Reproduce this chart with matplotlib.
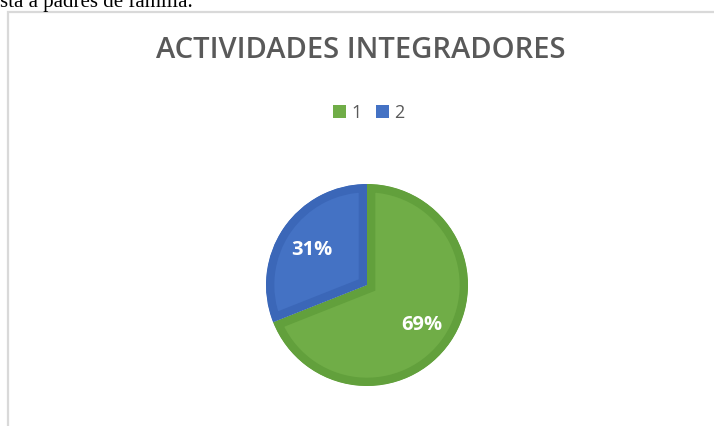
import matplotlib
matplotlib.use("Agg")
import matplotlib.pyplot as plt
from matplotlib.patches import Rectangle

categories = ["1", "2"]
values = [69, 31]
fill_colors = ["#70AD47", "#4472C4"]
edge_colors = ["#62A03C", "#3B67B8"]
title = "ACTIVIDADES INTEGRADORES"
caption = "sta a padres de familia."

W, H = 714, 426
fig = plt.figure(figsize=(W / 100, H / 100), dpi=100)
fig.patch.set_facecolor("white")

# chart frame border
fig.add_artist(Rectangle((8 / W, -0.1), 1.2, 1.1 - 12 / H,
                         transform=fig.transFigure, fill=False,
                         edgecolor="#D9D9D9", linewidth=1.6))

# cut-off caption from the surrounding document
fig.text(0 / W, 1 - 7 / H, caption, fontsize=15, family="Liberation Serif",
         color="black", va="baseline", ha="left")

fig.text(361 / W, 1 - 51 / H, title, fontsize=21, family="Open Sans",
         weight="semibold", color="#595959", ha="center", va="center")

# pie axes: center (367,285), radius ~101
cx, cy, r = 367, 285, 101
ax = fig.add_axes([(cx - r) / W, 1 - (cy + r) / H, 2 * r / W, 2 * r / H])
wedges, texts, autotexts = ax.pie(
    values, colors=fill_colors, startangle=90, counterclock=False,
    autopct="%d%%", pctdistance=0.66, radius=1.0,
    wedgeprops=dict(linewidth=12, joinstyle="miter"),
    textprops=dict(color="white", fontsize=14.5, weight="bold", family="Open Sans"))
ax.set_xlim(-1, 1)
ax.set_ylim(-1, 1)
ax.set_aspect("equal")
ax.axis("off")
for w, ec in zip(wedges, edge_colors):
    w.set_edgecolor(ec)
    w.set_clip_on(True)
    w.set_clip_path(w)
for t in autotexts:
    t.set_va("center_baseline")

leg = fig.legend(wedges, categories, loc="center", bbox_to_anchor=(369 / W, 1 - 113 / H),
                 ncol=2, frameon=False, handlelength=0.7, handleheight=0.7,
                 handletextpad=0.3, columnspacing=0.8,
                 prop=dict(family="Open Sans", size=13))
for t in leg.get_texts():
    t.set_color("#595959")
for h, c in zip(leg.legend_handles, fill_colors):
    h.set_edgecolor(c)
    h.set_linewidth(0)
    h.set_clip_path(None)

fig.savefig("out.png", dpi=100, facecolor="white")
